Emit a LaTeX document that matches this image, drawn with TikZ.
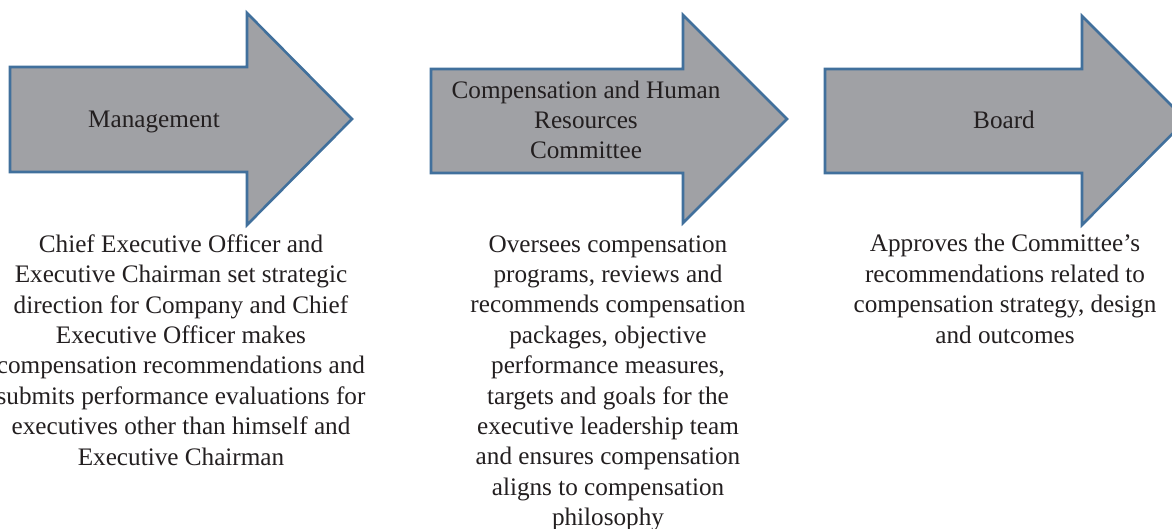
\documentclass[tikz,border=0pt]{standalone}
\usepackage{fontspec}
\setmainfont{Liberation Serif}
\definecolor{arrowfill}{HTML}{A0A1A5}
\definecolor{arrowline}{HTML}{41709C}
\definecolor{txt}{HTML}{231F20}
\begin{document}
\begin{tikzpicture}[x=0.5pt,y=-0.5pt,
  bigarrow/.style={fill=arrowfill,draw=arrowline,line width=1.3pt,line join=miter},
  lbl/.style={text=txt,inner sep=0pt,align=center,font=\fontsize{12.6}{15.2}\selectfont},
  desc/.style={lbl,anchor=base}]
\useasboundingbox (0,0) rectangle (1172,529);
\clip (0,0) rectangle (1172,529);
\fill[white] (0,0) rectangle (1172,529);
% arrows
\draw[bigarrow] (10,67) -- (247,67) -- (247,13) -- (352,119) -- (247,225) -- (247,172) -- (10,172) -- cycle;
\draw[bigarrow] (431,69) -- (683,69) -- (683,15) -- (787,119) -- (683,223) -- (683,173) -- (431,173) -- cycle;
\draw[bigarrow] (825,69) -- (1082,69) -- (1082,16) -- (1186,120) -- (1082,225) -- (1082,173) -- (825,173) -- cycle;
% labels (anchor = baseline of last line)
\node[lbl,anchor=base] (mgmt) at (154,128) {Management};
\node[lbl,anchor=base] (chrc) at (586,159) {Compensation and Human\\Resources\\Committee};
\node[lbl,anchor=base] (board) at (1004,129) {Board};
% descriptions
\node[desc] (mgmtd) at (181,465) {Chief Executive Officer and\\Executive Chairman set strategic\\direction for Company and Chief\\Executive Officer makes\\compensation recommendations and\\submits performance evaluations for\\executives other than himself and\\Executive Chairman};
\node[desc] (chrcd) at (608,525.6) {Oversees compensation\\programs, reviews and\\recommends compensation\\packages, objective\\performance measures,\\targets and goals for the\\executive leadership team\\and ensures compensation\\aligns to compensation\\philosophy};
\node[desc] (boardd) at (1005,343.2) {Approves the Committee’s\\recommendations related to\\compensation strategy, design\\and outcomes};
\end{tikzpicture}
\end{document}
